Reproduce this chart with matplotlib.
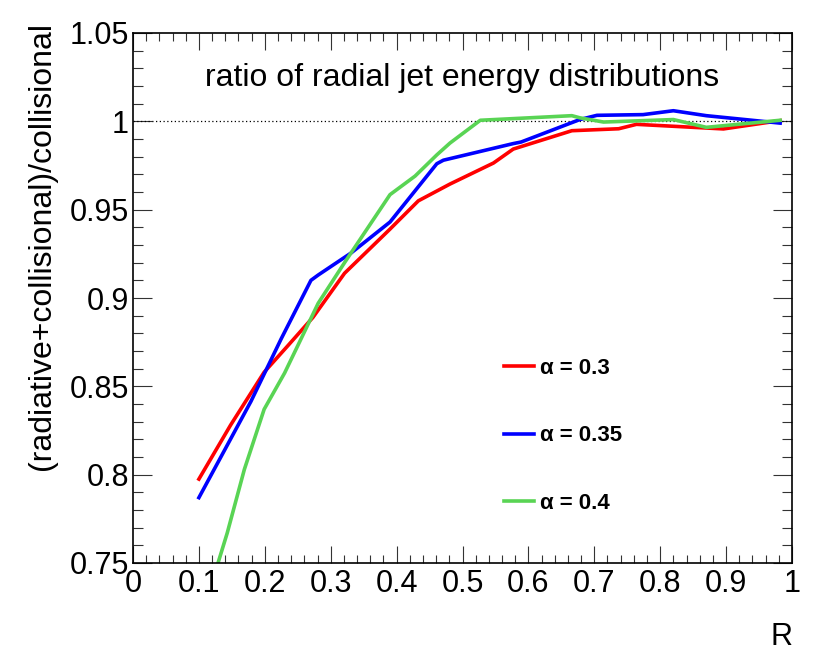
import numpy as np
import matplotlib
matplotlib.use('Agg')
import matplotlib.pyplot as plt
from matplotlib.ticker import MultipleLocator

plt.rcParams['font.family'] = ['Liberation Sans', 'DejaVu Sans']

# values
R_03 = [0.1, 0.148, 0.199, 0.235, 0.273, 0.321, 0.39, 0.433, 0.481, 0.547, 0.577,
        0.666, 0.737, 0.764, 0.82, 0.896, 0.982]
ratio_03 = [0.7975, 0.828, 0.858, 0.873, 0.889, 0.914, 0.939, 0.955, 0.9645, 0.9764, 0.9843,
            0.9947, 0.9958, 0.9983, 0.9972, 0.9957, 1.0004]

R_035 = [0.1, 0.179, 0.225, 0.27, 0.281, 0.331, 0.39, 0.461, 0.471, 0.577, 0.589,
         0.678, 0.704, 0.774, 0.82, 0.87, 0.982]
ratio_035 = [0.787, 0.8415, 0.877, 0.910, 0.913, 0.9255, 0.943, 0.976, 0.978, 0.9874, 0.9883,
             1.001, 1.0034, 1.0038, 1.006, 1.0032, 0.999]

R_04 = [0.1, 0.129, 0.143, 0.169, 0.199, 0.23, 0.281, 0.321, 0.39, 0.428, 0.461, 0.481,
        0.527, 0.666, 0.678, 0.714, 0.82, 0.87, 0.982]
ratio_04 = [0.715, 0.75, 0.767, 0.803, 0.837, 0.8575, 0.897, 0.92, 0.9585, 0.969, 0.981, 0.9877,
            1.0006, 1.0032, 1.002, 0.9996, 1.001, 0.9966, 1.0006]

labels = ['α = 0.3', 'α = 0.35', 'α = 0.4']
colors = ['#ff0000', '#0000ff', '#59d454']

xticks = [0, 0.1, 0.2, 0.3, 0.4, 0.5, 0.6, 0.7, 0.8, 0.9, 1.0]
xticklabels = ['0', '0.1', '0.2', '0.3', '0.4', '0.5', '0.6', '0.7', '0.8', '0.9', '1']
yticks = [0.75, 0.8, 0.85, 0.9, 0.95, 1.0, 1.05]
yticklabels = ['0.75', '0.8', '0.85', '0.9', '0.95', '1', '1.05']

fig = plt.figure(figsize=(8.3, 6.71), dpi=100)
ax = fig.add_axes([133/830, 1-563/671, (792-133)/830, (563-33)/671])

ax.plot([0, 1], [1, 1], color='black', lw=0.9, ls=(0, (1, 2)))
for xs, ys, lab, c in zip([R_03, R_035, R_04], [ratio_03, ratio_035, ratio_04], labels, colors):
    ax.plot(xs, ys, color=c, lw=2.6, label=lab)

ax.set_xlim(0, 1)
ax.set_ylim(0.75, 1.05)
ax.set_xticks(xticks)
ax.set_xticklabels(xticklabels)
ax.set_yticks(yticks)
ax.set_yticklabels(yticklabels)
ax.xaxis.set_minor_locator(MultipleLocator(0.02))
ax.yaxis.set_minor_locator(MultipleLocator(0.01))

ax.tick_params(axis='both', which='both', direction='in', top=True, right=True,
               labelsize=22, width=0.8, color='#333333')
ax.tick_params(axis='x', which='major', length=12, pad=4)
ax.tick_params(axis='x', which='minor', length=6)
ax.tick_params(axis='y', which='major', length=14, pad=3)
ax.tick_params(axis='y', which='minor', length=7)
for s in ax.spines.values():
    s.set_linewidth(1.2)

ax.text(0.5, 0.915, 'ratio of radial jet energy distributions', transform=ax.transAxes,
        ha='center', va='center', fontsize=23)

fig.text(42/830, 1-22/671, '(radiative+collisional)/collisional', rotation=90,
         ha='center', va='top', fontsize=23)
fig.text(792/830, 1-637/671, 'R', ha='right', va='center', fontsize=22)

leg = ax.legend(loc='center left', bbox_to_anchor=(0.563, 0.24), frameon=False,
                prop={'weight': 'bold', 'size': 16}, labelspacing=2.1,
                handlelength=1.35, handletextpad=0.27, borderpad=0, borderaxespad=0)

fig.savefig('out.png', dpi=100)
